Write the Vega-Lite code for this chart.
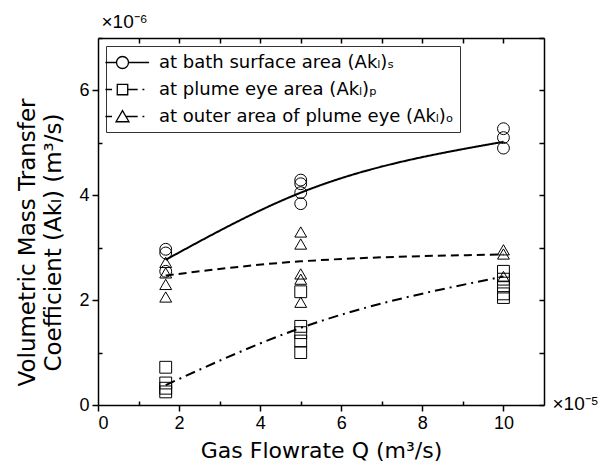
{
  "$schema": "https://vega.github.io/schema/vega-lite/v6.json",
  "autosize": "none",
  "width": 446,
  "height": 367,
  "padding": {"left": 98, "top": 38, "right": 60, "bottom": 58},
  "config": {
    "view": {"stroke": null},
    "font": "DejaVu Sans",
    "axis": {
      "grid": false,
      "domainColor": "black",
      "tickColor": "black",
      "labelColor": "black",
      "titleColor": "black",
      "domainWidth": 1.5,
      "tickWidth": 1.5,
      "labelFontSize": 18,
      "titleFontSize": 22,
      "titleFontWeight": "normal",
      "labelFont": "Liberation Sans",
      "titleFont": "DejaVu Sans"
    }
  },
  "datasets": {
    "pts": [
      {"series": "S", "q": 1.67, "k": 2.97},
      {"series": "S", "q": 1.67, "k": 2.9},
      {"series": "S", "q": 1.67, "k": 2.55},
      {"series": "S", "q": 5, "k": 4.29},
      {"series": "S", "q": 5, "k": 4.22},
      {"series": "S", "q": 5, "k": 4.05},
      {"series": "S", "q": 5, "k": 3.84},
      {"series": "S", "q": 10, "k": 5.27},
      {"series": "S", "q": 10, "k": 5.1},
      {"series": "S", "q": 10, "k": 4.9},
      {"series": "P", "q": 1.67, "k": 0.72},
      {"series": "P", "q": 1.67, "k": 0.42},
      {"series": "P", "q": 1.67, "k": 0.32},
      {"series": "P", "q": 1.67, "k": 0.25},
      {"series": "P", "q": 5, "k": 2.16},
      {"series": "P", "q": 5, "k": 1.5},
      {"series": "P", "q": 5, "k": 1.38},
      {"series": "P", "q": 5, "k": 1.22},
      {"series": "P", "q": 5, "k": 1.0},
      {"series": "P", "q": 10, "k": 2.55},
      {"series": "P", "q": 10, "k": 2.4},
      {"series": "P", "q": 10, "k": 2.25},
      {"series": "P", "q": 10, "k": 2.12},
      {"series": "P", "q": 10, "k": 2.05},
      {"series": "O", "q": 1.67, "k": 2.72},
      {"series": "O", "q": 1.67, "k": 2.52},
      {"series": "O", "q": 1.67, "k": 2.3},
      {"series": "O", "q": 1.67, "k": 2.06},
      {"series": "O", "q": 5, "k": 3.3},
      {"series": "O", "q": 5, "k": 3.07},
      {"series": "O", "q": 5, "k": 2.5},
      {"series": "O", "q": 5, "k": 2.4},
      {"series": "O", "q": 5, "k": 1.96},
      {"series": "O", "q": 10, "k": 2.96},
      {"series": "O", "q": 10, "k": 2.88},
      {"series": "O", "q": 10, "k": 2.45}
    ],
    "fit": [
      {"series": "S", "q": 1.67, "k": 2.77},
      {"series": "S", "q": 5, "k": 4.05},
      {"series": "S", "q": 10, "k": 5.02},
      {"series": "O", "q": 1.67, "k": 2.47},
      {"series": "O", "q": 5, "k": 2.74},
      {"series": "O", "q": 10, "k": 2.87},
      {"series": "P", "q": 1.67, "k": 0.38},
      {"series": "P", "q": 5, "k": 1.47},
      {"series": "P", "q": 10, "k": 2.45}
    ]
  },
  "layer": [
    {
      "data": {"name": "pts"},
      "mark": {"type": "point", "filled": false, "stroke": "black", "strokeWidth": 1, "size": 140, "opacity": 1},
      "encoding": {
        "x": {
          "field": "q", "type": "quantitative",
          "scale": {"domain": [0, 11], "nice": false, "zero": false},
          "axis": {"orient": "bottom", "values": [0, 2, 4, 6, 8, 10], "tickSize": 6, "labelPadding": 3, "title": "Gas Flowrate Q (m³/s)", "titlePadding": 8}
        },
        "y": {
          "field": "k", "type": "quantitative",
          "scale": {"domain": [0, 7], "nice": false},
          "axis": {"orient": "left", "values": [0, 2, 4, 6], "tickSize": 6, "labelPadding": 3,
            "title": ["Volumetric Mass Transfer", "Coefficient (Akₗ) (m³/s)"],
            "titleX": -59, "titleY": 204, "titleAngle": -90, "titleAlign": "center", "titleBaseline": "bottom", "titleLineHeight": 26, "titleFontSize": 23}
        },
        "shape": {"field": "series", "type": "nominal", "scale": {"domain": ["S", "P", "O"], "range": ["circle", "square", "triangle-up"]}, "legend": null}
      }
    },
    {
      "data": {"name": "fit"},
      "mark": {"type": "line", "color": "black", "strokeWidth": 2, "interpolate": "monotone"},
      "encoding": {
        "x": {
          "field": "q", "type": "quantitative",
          "axis": {"orient": "top", "values": [1, 2, 3, 4, 5, 6, 7, 8, 9, 10], "tickSize": -5, "labels": false,
            "title": "×10⁻⁶", "titleX": 3, "titleY": -17, "titleAngle": 0, "titleAlign": "left", "titleBaseline": "middle", "titleFontSize": 19, "titleFont": "Liberation Sans"}
        },
        "y": {
          "field": "k", "type": "quantitative",
          "axis": {"orient": "right", "values": [0, 1, 2, 3, 4, 5, 6, 7], "tickSize": -5, "labels": false,
            "title": "×10⁻⁵", "titleX": 8, "titleY": 365, "titleAngle": 0, "titleAlign": "left", "titleBaseline": "middle", "titleFontSize": 19, "titleFont": "Liberation Sans"}
        },
        "strokeDash": {"field": "series", "type": "nominal", "scale": {"domain": ["S", "P", "O"], "range": [[1, 0], [10, 5, 2, 5], [8, 5]]}, "legend": null}
      }
    },
    {
      "data": {"name": "pts"},
      "mark": {"type": "point", "filled": false, "stroke": "black", "strokeWidth": 1.3, "size": 0},
      "encoding": {
        "x": {
          "field": "q", "type": "quantitative",
          "axis": {"orient": "bottom", "values": [1, 3, 5, 7, 9], "tickSize": -4, "labels": false, "domain": false, "title": null}
        },
        "y": {
          "field": "k", "type": "quantitative",
          "axis": {"orient": "left", "values": [1, 3, 5, 7], "tickSize": -4, "labels": false, "domain": false, "title": null}
        },
        "shape": {
          "field": "series", "type": "nominal",
          "scale": {"domain": ["S", "P", "O"], "range": [
            "M-1.8,0H-0.63M0.63,0H2.8M0.63,0A0.63,0.63,0,1,1,-0.63,0A0.63,0.63,0,1,1,0.63,0",
            "M-1.8,0H-1.1M-0.55,-0.55H0.55V0.55H-0.55ZM0.55,0H1.6M2.1,0H2.3",
            "M-1.8,0H-1.1M0,-0.62L0.68,0.55H-0.68ZM0.36,0H1.6M2.1,0H2.3"
          ]},
          "legend": {
            "orient": "top-left", "offset": 8, "title": null, "padding": 6,
            "symbolSize": 361, "rowPadding": 7, "labelOffset": 26, "labelLimit": 0,
            "labelFontSize": 18, "labelFont": "DejaVu Sans", "labelColor": "black",
            "strokeColor": "#333", "fillColor": "white",
            "symbolStrokeWidth": 1.3, "symbolStrokeColor": "black", "symbolFillColor": "transparent", "symbolOpacity": 1,
            "labelExpr": "datum.value == 'S' ? 'at bath surface area (Akₗ)ₛ' : datum.value == 'P' ? 'at plume eye area (Akₗ)ₚ' : 'at outer area of plume eye (Akₗ)ₒ'"
          }
        }
      }
    }
  ],
  "resolve": {"scale": {"shape": "independent"}, "axis": {"x": "independent", "y": "independent"}}
}
